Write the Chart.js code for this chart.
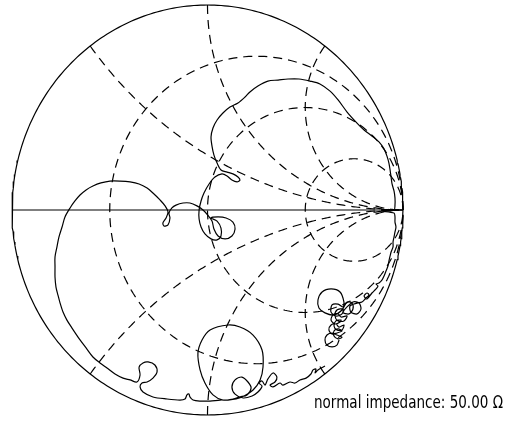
<!DOCTYPE html>
<html>
<head>
<meta charset="utf-8">
<script src="https://cdn.jsdelivr.net/npm/chart.js@4/dist/chart.umd.min.js"></script>
<style>
body { margin: 0; background: #fff; }
canvas { display: block; }
</style>
</head>
<body>
<canvas id="smith" width="514" height="426"></canvas>
<script>
// reflection coefficient of the measured trace (real / imaginary parts)
const traceRe = [
  0.673, 0.662, 0.637, 0.611, 0.601, 0.611, 0.637, 0.662,
  0.688, 0.668, 0.647, 0.647, 0.668, 0.688,
  0.662, 0.637, 0.621, 0.632, 0.657, 0.673,
  0.698, 0.688, 0.662, 0.647, 0.657, 0.683,
  0.678, 0.652, 0.632, 0.642, 0.668, 0.683,
  0.714, 0.698, 0.668, 0.652, 0.662, 0.693,
  0.688, 0.657, 0.632, 0.637, 0.668, 0.693,
  0.698, 0.678, 0.632, 0.586, 0.565, 0.570, 0.601, 0.647, 0.688,
  0.714, 0.739, 0.744, 0.724, 0.693,
  0.744, 0.775, 0.785, 0.765, 0.734, 0.729,
  0.765, 0.790, 0.811, 0.826, 0.816, 0.801, 0.816, 0.841, 0.862, 0.872, 0.862, 0.877,
  0.893, 0.903, 0.913, 0.923, 0.928, 0.934, 0.939, 0.949, 0.949, 0.954, 0.959, 0.964,
  0.959, 0.959, 0.954, 0.893, 0.954, 0.959, 0.959, 0.954, 0.944, 0.939, 0.934, 0.928,
  0.918, 0.903, 0.877, 0.841, 0.801, 0.760, 0.714, 0.668, 0.627, 0.575, 0.524, 0.468,
  0.412, 0.361, 0.309, 0.258, 0.217, 0.192, 0.156, 0.115, 0.079, 0.049, 0.028, 0.018,
  0.023, 0.033, 0.049, 0.069, 0.100, 0.130, 0.156, 0.166, 0.151, 0.125, 0.100, 0.074,
  0.038, 0.008, -0.018, -0.033, -0.043, -0.043, -0.033, -0.013, 0.018, 0.049, 0.069, 0.069,
  0.049, 0.018, 0.054, 0.095, 0.130, 0.141, 0.125, 0.090, 0.054, 0.033, 0.023, -0.003,
  -0.023, -0.054, -0.090, -0.125, -0.161, -0.182, -0.197, -0.192, -0.202, -0.223, -0.228, -0.212,
  -0.202, -0.217, -0.243, -0.279, -0.309, -0.350, -0.396, -0.448, -0.499, -0.545, -0.586, -0.621,
  -0.652, -0.678, -0.703, -0.729, -0.744, -0.760, -0.770, -0.780, -0.780, -0.780, -0.775, -0.765,
  -0.754, -0.739, -0.719, -0.693, -0.652, -0.621, -0.586, -0.550, -0.514, -0.473, -0.432, -0.396,
  -0.361, -0.345, -0.350, -0.330, -0.304, -0.269, -0.258, -0.279, -0.309, -0.335, -0.345, -0.330,
  -0.279, -0.207, -0.141, -0.115, -0.105, -0.095, -0.090, -0.074, -0.038, 0.013, 0.064, 0.105,
  0.146, 0.187, 0.233, 0.269, 0.284, 0.279, 0.233, 0.166, 0.105, 0.013, -0.028, -0.049,
  -0.038, -0.013, 0.028, 0.079, 0.130, 0.166, 0.202, 0.223, 0.207, 0.176, 0.141, 0.125,
  0.141, 0.182, 0.228, 0.258, 0.279, 0.263, 0.279, 0.294, 0.309, 0.335, 0.355, 0.345,
  0.320, 0.335, 0.371, 0.386, 0.422, 0.448, 0.473, 0.504, 0.529, 0.540, 0.555, 0.550,
  0.565, 0.601
];
const traceIm = [
  -0.634, -0.659, -0.668, -0.659, -0.634, -0.610, -0.600, -0.610,
  -0.620, -0.629, -0.615, -0.590, -0.580, -0.590,
  -0.600, -0.605, -0.585, -0.561, -0.556, -0.571,
  -0.561, -0.585, -0.585, -0.566, -0.541, -0.537,
  -0.546, -0.556, -0.537, -0.512, -0.507, -0.522,
  -0.517, -0.541, -0.541, -0.517, -0.488, -0.483,
  -0.507, -0.517, -0.498, -0.463, -0.459, -0.473,
  -0.449, -0.400, -0.385, -0.400, -0.439, -0.478, -0.502, -0.512, -0.488,
  -0.449, -0.454, -0.483, -0.507, -0.498,
  -0.449, -0.454, -0.483, -0.507, -0.498, -0.468,
  -0.454, -0.449, -0.429, -0.415, -0.405, -0.420, -0.434, -0.405, -0.385, -0.371, -0.361, -0.356,
  -0.341, -0.322, -0.298, -0.273, -0.249, -0.224, -0.205, -0.180, -0.156, -0.132, -0.107, -0.083,
  -0.059, -0.034, -0.015, -0.005, 0.000, 0.024, 0.059, 0.093, 0.127, 0.161, 0.195, 0.229,
  0.263, 0.298, 0.332, 0.361, 0.390, 0.429, 0.478, 0.537, 0.580, 0.615, 0.629, 0.639,
  0.639, 0.634, 0.629, 0.605, 0.576, 0.551, 0.522, 0.502, 0.473, 0.439, 0.400, 0.356,
  0.312, 0.268, 0.229, 0.195, 0.185, 0.176, 0.161, 0.146, 0.137, 0.146, 0.166, 0.176,
  0.161, 0.127, 0.083, 0.044, 0.000, -0.044, -0.083, -0.117, -0.141, -0.146, -0.127, -0.088,
  -0.054, -0.039, -0.034, -0.039, -0.059, -0.093, -0.127, -0.141, -0.127, -0.093, -0.054, -0.020,
  0.000, 0.020, 0.034, 0.034, 0.024, 0.010, -0.015, -0.039, -0.073, -0.078, -0.063, -0.039,
  -0.010, 0.020, 0.049, 0.083, 0.107, 0.127, 0.137, 0.141, 0.141, 0.132, 0.117, 0.098,
  0.073, 0.044, 0.010, -0.034, -0.083, -0.132, -0.180, -0.229, -0.278, -0.327, -0.376, -0.415,
  -0.454, -0.498, -0.537, -0.576, -0.634, -0.673, -0.717, -0.746, -0.771, -0.800, -0.820, -0.829,
  -0.839, -0.805, -0.766, -0.746, -0.741, -0.756, -0.790, -0.820, -0.839, -0.844, -0.863, -0.888,
  -0.912, -0.922, -0.927, -0.922, -0.902, -0.898, -0.912, -0.927, -0.932, -0.932, -0.927, -0.927,
  -0.922, -0.907, -0.878, -0.829, -0.766, -0.683, -0.610, -0.571, -0.561, -0.585, -0.634, -0.698,
  -0.780, -0.844, -0.902, -0.927, -0.922, -0.912, -0.902, -0.868, -0.839, -0.815, -0.829, -0.863,
  -0.898, -0.917, -0.907, -0.888, -0.859, -0.844, -0.834, -0.854, -0.824, -0.795, -0.815, -0.839,
  -0.854, -0.863, -0.844, -0.854, -0.839, -0.844, -0.829, -0.820, -0.800, -0.780, -0.776, -0.795,
  -0.780, -0.761
];

// grid of the chart: normalised resistance circles and reactance arcs
const resistanceValues = [1 / 3, 1, 3];
const reactanceValues = [0.5, 1, 2, -0.5, -1, -2];
const impedanceLabel = 'normal impedance: 50.00 \u03A9';

function arcPoints(cx, cy, rad, a0, a1, n) {
    const pts = [];
    for (let i = 0; i <= n; i++) {
        const a = a0 + (a1 - a0) * i / n;
        pts.push({x: cx + rad * Math.cos(a), y: cy + rad * Math.sin(a)});
    }
    return pts;
}

function resistanceCircle(r) {
    return arcPoints(r / (1 + r), 0, 1 / (1 + r), 0, 2 * Math.PI, 240);
}

function reactanceArc(x) {
    const ax = Math.abs(x);
    const ex = (ax * ax - 1) / (ax * ax + 1);
    const ey = 2 * ax / (ax * ax + 1);
    const cy = 1 / ax;
    const start = Math.atan2(ey - cy, ex - 1);
    let delta = (-Math.PI / 2 - start) % (2 * Math.PI);
    if (delta < 0) delta += 2 * Math.PI;
    const pts = arcPoints(1, cy, 1 / ax, start, start + delta, 200);
    return x < 0 ? pts.map(p => ({x: p.x, y: -p.y})) : pts;
}

function lineSet(data, dash) {
    return {
        data: data,
        showLine: true,
        pointRadius: 0,
        borderColor: '#000',
        borderWidth: 1.2,
        borderDash: dash || [],
        fill: false,
        clip: false,
        tension: 0
    };
}

const datasets = [];
datasets.push(lineSet(arcPoints(0, 0, 1, 0, 2 * Math.PI, 360)));
datasets.push(lineSet([{x: -1, y: 0}, {x: 1, y: 0}]));
resistanceValues.forEach(r => datasets.push(lineSet(resistanceCircle(r), [9, 6])));
reactanceValues.forEach(x => datasets.push(lineSet(reactanceArc(x), [9, 6])));

const trace = lineSet(traceRe.map((re, i) => ({x: re, y: traceIm[i]})));
trace.tension = 0.3;
datasets.push(trace);

const labelPlugin = {
    id: 'impedanceLabel',
    afterDraw(chart) {
        const ctx = chart.ctx;
        ctx.save();
        ctx.font = '17px "DejaVu Sans"';
        ctx.fillStyle = '#000';
        ctx.textBaseline = 'alphabetic';
        const w = ctx.measureText(impedanceLabel).width;
        ctx.translate(314, 408);
        ctx.scale(189 / w, 1);
        ctx.fillText(impedanceLabel, 0, 0);
        ctx.restore();
    }
};

const ctx = document.getElementById('smith').getContext('2d');
new Chart(ctx, {
    type: 'scatter',
    data: {datasets: datasets},
    options: {
        responsive: false,
        animation: false,
        devicePixelRatio: 1,
        layout: {padding: {left: 12, right: 111, top: 5, bottom: 11}},
        plugins: {legend: {display: false}, tooltip: {enabled: false}},
        scales: {
            x: {type: 'linear', min: -1, max: 1, display: false},
            y: {type: 'linear', min: -1, max: 1, display: false}
        }
    },
    plugins: [labelPlugin]
});
</script>
</body>
</html>
